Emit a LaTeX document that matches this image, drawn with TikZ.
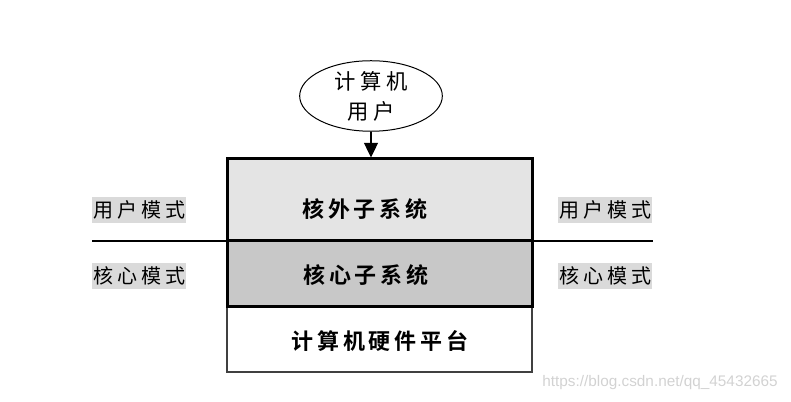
\documentclass[tikz,border=0pt]{standalone}
\usepackage{fontspec}
\newfontfamily\cjkbox[LetterSpace=18,BoldFont={* Bold}]{Noto Sans CJK SC}
\newfontfamily\cjkside[LetterSpace=20]{Noto Sans CJK SC}
\newfontfamily\cjkuser[LetterSpace=22]{Noto Sans CJK SC}
\newfontfamily\markfont{Liberation Sans}
\usetikzlibrary{arrows.meta,shapes.geometric}
\definecolor{outergray}{HTML}{E4E4E4}
\definecolor{kernelgray}{HTML}{C8C8C8}
\definecolor{labelgray}{HTML}{DADADA}
\definecolor{markgray}{HTML}{D2D2D2}
\begin{document}
\begin{tikzpicture}[x=0.75pt, y=-0.75pt,
    sysbox/.style = {draw, line width=2.25pt, minimum width=228.75pt, inner sep=0pt},
    boxtext/.style = {inner sep=0pt, font=\cjkbox\bfseries\fontsize{16.5}{18}\selectfont},
    modelabel/.style = {fill=labelgray, inner xsep=1pt, inner ysep=3pt,
                        font=\cjkside\fontsize{15}{17}\selectfont}]
\useasboundingbox (0,0) rectangle (791,402);

% the user on top
\node[ellipse, draw, line width=0.75pt, minimum width=107pt, minimum height=46.5pt,
      inner sep=0pt, align=center, font=\cjkuser\fontsize{16}{22.5}\selectfont]
      (user) at (371,96) {计算机\\用户};

% layer boxes
\node[sysbox, draw=black!75, line width=1.5pt, fill=white, minimum height=49.5pt] (hw) at (379.5,339) {};
\coordinate (lineL) at (92,241);
\coordinate (lineR) at (653,241);
\node[sysbox, fill=kernelgray, minimum height=48.75pt] (kernel) at (379.5,273.5) {};
\node[sysbox, fill=outergray, minimum height=61.5pt] (outer) at (379.5,200) {};
\draw[line width=1pt] (lineL) -- (lineL -| outer.west);
\draw[line width=1pt] (lineR -| outer.east) -- (lineR);

\node[boxtext] (outertext)  at (365,209) {核外子系统};
\node[boxtext] (kerneltext) at (366,275) {核心子系统};
\node[boxtext] (hwtext)     at (380,341) {计算机硬件平台};

\draw[line width=0.9pt, -{Triangle[width=10.5pt,length=11pt]}] (user.south) -- (user.south |- outer.north);

% mode labels
\node[modelabel] (userL)   at (139,210) {用户模式};
\node[modelabel] (kernelL) at (139,276) {核心模式};
\node[modelabel] (userR)   at (605,210) {用户模式};
\node[modelabel] (kernelR) at (605,276) {核心模式};

\node[text=markgray, font=\markfont\fontsize{11.5}{13}\selectfont] (mark) at (660,383) {https://blog.csdn.net/qq\_45432665};
\end{tikzpicture}
\end{document}
